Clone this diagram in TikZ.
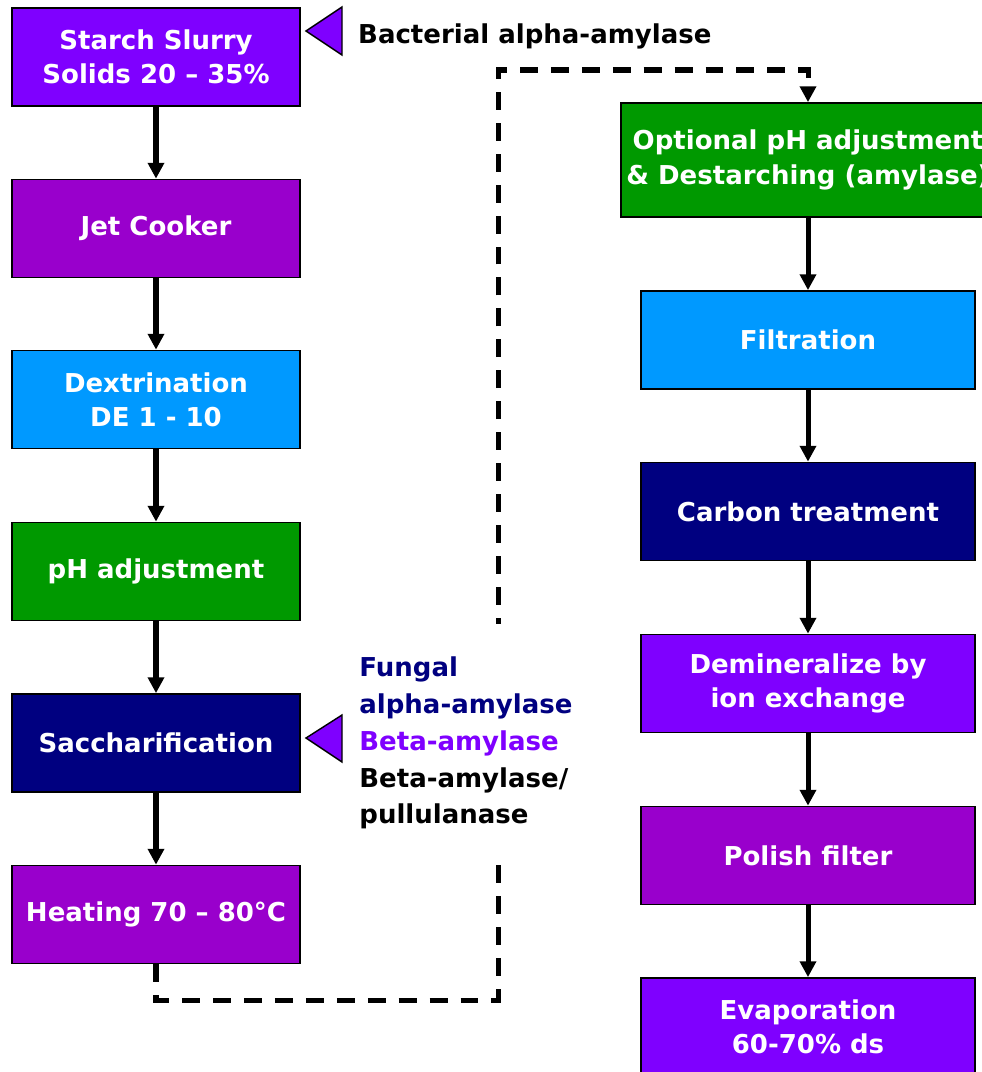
\documentclass[tikz,border=0pt]{standalone}
\usepackage{fontspec}
\setmainfont{DejaVu Sans}
\usetikzlibrary{arrows.meta}
\definecolor{stviolet}{RGB}{127, 0, 255}
\definecolor{stpurple}{RGB}{153, 0, 204}
\definecolor{stblue}{RGB}{0, 153, 255}
\definecolor{stgreen}{RGB}{0, 153, 0}
\definecolor{stnavy}{RGB}{0, 0, 128}
\newcommand*{\bh}{1.96cm}

\begin{document}
\begin{tikzpicture}[
   x=0.02cm, y=-0.02cm,
   procbox/.style={rectangle, draw=black, line width=1, text=white,
                   font=\bfseries\fontsize{14.8}{19.5}\selectfont, align=center,
                   inner sep=0, minimum height=\bh},
   leftbox/.style={procbox, minimum width=5.76cm},
   rightbox/.style={procbox, minimum width=6.68cm},
   flow/.style={-{Triangle[length=9pt, width=9pt]}, line width=2.85pt},
   dashflow/.style={-{Triangle[length=9pt, width=9pt]}, line width=2.85pt,
                    dash pattern=on 10.2pt off 7.4pt},
   enzmark/.style={draw=black, fill=stviolet, line width=0.8},
   enzlabel/.style={font=\bfseries\fontsize{14.8}{21}\selectfont, align=left}
  ]

  \useasboundingbox (0, 0) rectangle (982, 1072);

  % left column
  \node (starch) at (156, 57) [leftbox, fill=stviolet] {Starch Slurry\\Solids 20 -- 35\%};
  \node (jet) at (156, 228.5) [leftbox, fill=stpurple] {Jet Cooker};
  \node (dext) at (156, 399.5) [leftbox, fill=stblue] {Dextrination\\DE 1 - 10};
  \node (phadj) at (156, 571.5) [leftbox, fill=stgreen] {pH adjustment};
  \node (sacch) at (156, 743) [leftbox, fill=stnavy] {Saccharification};
  \node (heat) at (156, 914.5) [leftbox, fill=stpurple] {Heating 70 -- 80°C};

  % right column
  \node (opt) at (808, 160) [procbox, fill=stgreen, minimum width=7.48cm, minimum height=2.28cm]
        {Optional pH adjustment\\\& Destarching (amylase)};
  \node (filt) at (808, 340) [rightbox, fill=stblue] {Filtration};
  \node (carbon) at (808, 511.5) [rightbox, fill=stnavy] {Carbon treatment};
  \node (demin) at (808, 683.5) [rightbox, fill=stviolet] {Demineralize by\\ion exchange};
  \node (polish) at (808, 855.5) [rightbox, fill=stpurple] {Polish filter};
  \node (evap) at (808, 1027) [rightbox, fill=stviolet] {Evaporation\\60-70\% ds};

  \foreach \B/\E in {starch/jet, jet/dext, dext/phadj, phadj/sacch, sacch/heat,
                     opt/filt, filt/carbon, carbon/demin, demin/polish, polish/evap} {
    \draw[flow] (\B) -- (\E);
  }

  % link between the columns
  \coordinate (lowbend) at (498, 1000);
  \coordinate (upbend) at (498, 70);
  \draw[dashflow] (heat.south) |- (lowbend) -- (upbend) -| (opt.north);

  % enzymes
  \draw[enzmark] (306, 31) -- (342, 7) -- (342, 55) -- cycle;
  \node (bact) at (352, 36) [enzlabel, anchor=west] {Bacterial alpha-amylase};

  \draw[enzmark] (306, 738) -- (342, 715) -- (342, 762) -- cycle;
  \node (fung) at (352, 743) [enzlabel, anchor=west, fill=white, inner xsep=4pt, inner ysep=0.65cm]
        {\textcolor{stnavy}{Fungal}\\\textcolor{stnavy}{alpha-amylase}\\
         \textcolor{stviolet}{Beta-amylase}\\Beta-amylase/\\pullulanase};

\end{tikzpicture}
\end{document}
